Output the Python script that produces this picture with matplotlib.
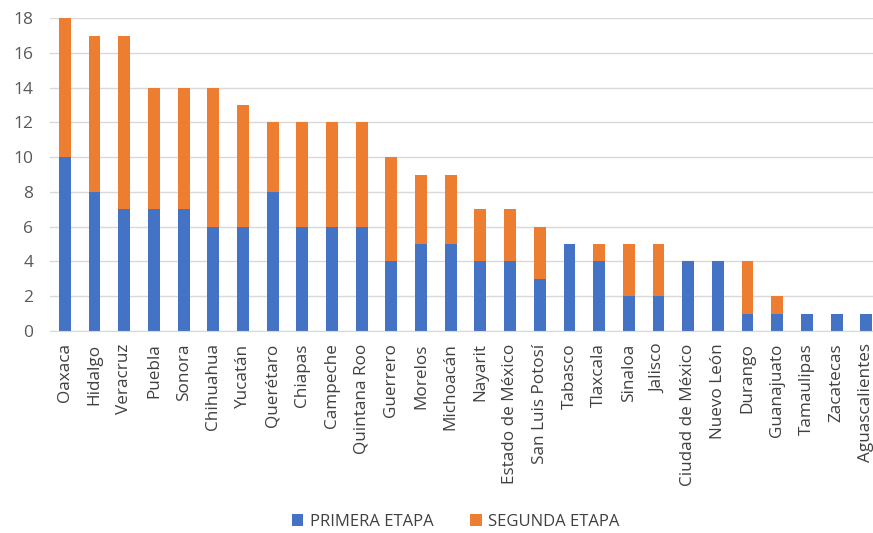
import numpy as np
from matplotlib import pyplot as plt

plt.rcParams['font.family'] = ['Open Sans', 'DejaVu Sans']

# data
estados = ['Oaxaca', 'Hidalgo', 'Veracruz', 'Puebla', 'Sonora', 'Chihuahua',
           'Yucatán', 'Querétaro', 'Chiapas', 'Campeche', 'Quintana Roo',
           'Guerrero', 'Morelos', 'Michoacán', 'Nayarit', 'Estado de México',
           'San Luis Potosí', 'Tabasco', 'Tlaxcala', 'Sinaloa', 'Jalisco',
           'Ciudad de México', 'Nuevo León', 'Durango', 'Guanajuato',
           'Tamaulipas', 'Zacatecas', 'Aguascalientes']
primera = [10, 8, 7, 7, 7, 6, 6, 8, 6, 6, 6, 4, 5, 5, 4, 4, 3, 5, 4, 2, 2,
           4, 4, 1, 1, 1, 1, 1]
segunda = [8, 9, 10, 7, 7, 8, 7, 4, 6, 6, 6, 6, 4, 4, 3, 3, 3, 0, 1, 3, 3,
           0, 0, 3, 1, 0, 0, 0]

blue = '#4472C4'
orange = '#ED7D31'

fig = plt.figure(figsize=(8.73, 5.33), dpi=100)
ax = fig.add_axes([0.0573, 0.379, 0.952, 0.587])

x = np.arange(len(estados))
ax.bar(x, primera, width=0.4, color=blue, label='PRIMERA ETAPA')
ax.bar(x, segunda, width=0.4, bottom=primera, color=orange, label='SEGUNDA ETAPA')

ax.set_xlim(-0.5, len(estados) - 0.5)
ax.set_ylim(0, 18)
ax.set_yticks(range(0, 19, 2))
ax.set_xticks(x)
ax.set_xticklabels(estados, rotation=90, fontsize=12.3, color='#404040')
ax.tick_params(axis='y', labelsize=12.5, colors='#595959', length=0, pad=12)
ax.tick_params(axis='x', length=0, pad=9)
ax.grid(axis='y', color='#d9d9d9', linewidth=1)
ax.set_axisbelow(True)
for s in ['top', 'right', 'left']:
    ax.spines[s].set_visible(False)
ax.spines['bottom'].set_color('#d9d9d9')

fig.legend(loc='lower center', bbox_to_anchor=(0.522, -0.022), ncol=2, frameon=False,
           fontsize=12, handlelength=0.7, handleheight=0.7, columnspacing=2.2,
           handletextpad=0.4, labelcolor='#404040')

fig.savefig('out.png', dpi=100)
